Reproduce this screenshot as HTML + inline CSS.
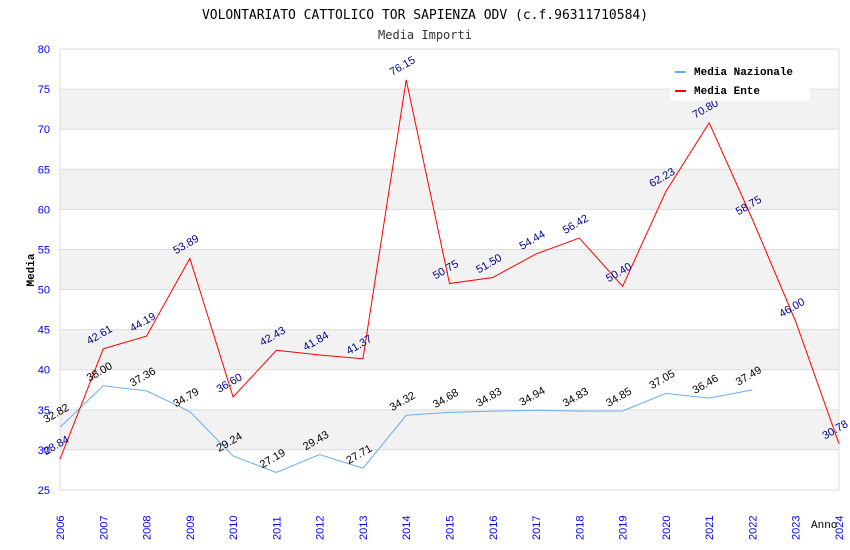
<!DOCTYPE html>
<html><head><meta charset="utf-8"><style>
body{margin:0;background:#fff}
svg{display:block}
</style></head><body>
<svg id="chart" width="850" height="550" xmlns="http://www.w3.org/2000/svg">
<text x="425" y="19" text-anchor="middle" font-family="DejaVu Sans Mono, monospace" font-size="13">VOLONTARIATO CATTOLICO TOR SAPIENZA ODV (c.f.96311710584)</text>
<text x="425" y="39" text-anchor="middle" font-family="DejaVu Sans Mono, monospace" font-size="12" fill="#333">Media Importi</text>
<g id="bands"></g><g id="grid"></g><g id="axes"></g><g id="series"></g><g id="labels"></g>
<text x="34" y="270" transform="rotate(-90 34 270)" text-anchor="middle" font-family="Liberation Mono, monospace" font-size="11" font-weight="bold">Media</text>
<text x="811" y="528" font-family="Liberation Mono, monospace" font-size="11">Anno</text>
<g>
<rect x="670" y="60" width="140" height="41" fill="#fff"/>
<line x1="675" y1="72" x2="686" y2="72" stroke="#6aaef0" stroke-width="2"/>
<text x="694" y="75" font-family="Liberation Mono, monospace" font-size="11" font-weight="bold">Media Nazionale</text>
<line x1="675" y1="91" x2="686" y2="91" stroke="#f00" stroke-width="2"/>
<text x="694" y="94" font-family="Liberation Mono, monospace" font-size="11" font-weight="bold">Media Ente</text>
</g>
</svg>
<script>
const years=[2006,2007,2008,2009,2010,2011,2012,2013,2014,2015,2016,2017,2018,2019,2020,2021,2022,2023,2024];
const ente=[28.84,42.61,44.19,53.89,36.60,42.43,41.84,41.37,76.15,50.75,51.50,54.44,56.42,50.40,62.23,70.80,58.75,46.00,30.78];
const nazionale=[32.82,38.00,37.36,34.79,29.24,27.19,29.43,27.71,34.32,34.68,34.83,34.94,34.83,34.85,37.05,36.46,37.49];
const yTicks=[25,30,35,40,45,50,55,60,65,70,75,80];
const NS="http://www.w3.org/2000/svg";
const X0=60,X1=839,Y0=490,Y1=49,ymin=25,ymax=80;
const xs=i=>X0+(X1-X0)*i/(years.length-1);
const ys=v=>Y0-(v-ymin)/(ymax-ymin)*(Y0-Y1);
function mk(tag,attrs,parent,txt){const e=document.createElementNS(NS,tag);for(const k in attrs)e.setAttribute(k,attrs[k]);if(txt!==undefined)e.textContent=txt;document.getElementById(parent).appendChild(e);return e;}
for(let i=0;i<yTicks.length-1;i++){
  if(yTicks[i]%10===0){const b=mk('rect',{x:X0,y:ys(yTicks[i+1]),width:X1-X0,height:ys(yTicks[i])-ys(yTicks[i+1]),fill:'#f2f2f2'},'bands');
  
  }
}
yTicks.forEach(t=>{
  const l=mk('line',{x1:X0,x2:X1,y1:ys(t),y2:ys(t),stroke:'#ddd'},'grid');
  
  
  const tx=mk('text',{x:X0-10,y:ys(t)+4,'text-anchor':'end','font-family':'Liberation Sans, sans-serif','font-size':11,fill:'#00f'},'axes',t);
  
  
});
years.forEach((y,i)=>{
  const tx=mk('text',{x:xs(i)+4,y:Y0+50,transform:`rotate(-90 ${xs(i)+4} ${Y0+50})`,'font-family':'Liberation Sans, sans-serif','font-size':11,fill:'#00f'},'axes',y);
  
  
});
const ax=mk('path',{d:`M${X0} ${Y1}V${Y0}H${X1}V${Y1}`,stroke:'#ddd',fill:'none'},'axes');


function series(vals,color,lab,name){
  const p=mk('polyline',{points:vals.map((v,i)=>xs(i)+','+ys(v)).join(' '),fill:'none',stroke:color,'stroke-width':1},'series');
  
  
  vals.forEach((v,i)=>{
    const x=xs(i)-14,y=ys(v)-4;
    const t=mk('text',{x:x,y:y,transform:`rotate(-30 ${x} ${y})`,'font-family':'Liberation Sans, sans-serif','font-size':11,fill:lab},'labels',v.toFixed(2));
    
    
  });
}
series(nazionale,'#6aaef0','#000','nazionale');
series(ente,'#f00','#00008b','ente');
</script>
</body></html>
